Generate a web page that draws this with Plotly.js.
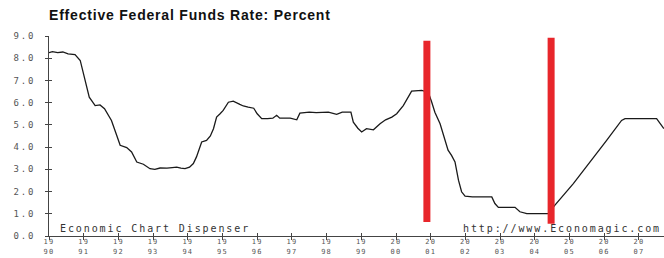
<!DOCTYPE html>
<html>
<head>
<meta charset="utf-8">
<script src="https://cdn.plot.ly/plotly-3.0.1.min.js"></script>
<style>
html,body{margin:0;padding:0;background:#fff;}
#chart{width:664px;height:258px;}
.annotation-text{letter-spacing:1.9px;}
.ytick text{letter-spacing:1.8px;}
.xtick text{letter-spacing:1.2px;}
.gtitle{letter-spacing:0.8px;}
</style>
</head>
<body>
<div id="chart"></div>
<script>
// Effective Federal Funds Rate (percent), decimal years
var dates = [1990.00,1990.10,1990.25,1990.40,1990.55,1990.75,1990.90,1991.04,1991.16,1991.33,1991.47,1991.60,1991.80,1991.95,
1992.05,1992.24,1992.38,1992.53,1992.72,1992.91,1993.05,1993.20,1993.40,1993.55,1993.68,1993.80,1993.92,1994.05,1994.16,
1994.25,1994.33,1994.40,1994.54,1994.65,1994.74,1994.83,1994.93,1995.02,1995.17,1995.31,1995.50,1995.60,1995.74,1995.90,
1996.00,1996.13,1996.30,1996.45,1996.56,1996.65,1996.95,1997.14,1997.23,1997.50,1997.70,1997.90,1998.05,1998.29,1998.45,
1998.70,1998.77,1998.90,1999.01,1999.15,1999.35,1999.54,1999.70,1999.88,2000.02,2000.21,2000.35,2000.45,2000.74,2000.93,
2001.03,2001.12,2001.27,2001.41,2001.50,2001.60,2001.70,2001.80,2001.89,2001.99,2002.20,2002.76,2002.85,2002.95,2003.43,
2003.57,2003.77,2004.39,2004.58,2005.11,2005.49,2006.07,2006.50,2006.60,2007.51,2007.72];
var rates = [8.25,8.30,8.25,8.28,8.20,8.16,7.90,7.00,6.25,5.87,5.90,5.73,5.20,4.53,
4.08,3.98,3.78,3.33,3.23,3.03,3.00,3.06,3.05,3.08,3.10,3.05,3.03,3.10,3.26,
3.56,3.93,4.23,4.30,4.50,4.83,5.35,5.50,5.65,6.02,6.07,5.92,5.85,5.80,5.75,
5.50,5.28,5.28,5.30,5.43,5.30,5.30,5.23,5.53,5.57,5.55,5.55,5.57,5.47,5.57,
5.57,5.12,4.85,4.68,4.83,4.78,5.05,5.23,5.35,5.50,5.87,6.25,6.52,6.55,6.47,
6.02,5.57,5.05,4.30,3.86,3.63,3.33,2.51,1.99,1.79,1.76,1.76,1.46,1.29,1.29,
1.09,1.01,1.01,1.39,2.36,3.11,4.30,5.20,5.28,5.28,4.83];

// Red marker bars drawn over the chart
var markerDates = [2000.89, 2004.47];
var markerTop = [8.79, 8.92];
var markerBottom = [0.63, 0.55];

var yearTicks = [1990,1991,1992,1993,1994,1995,1996,1997,1998,1999,2000,2001,2002,2003,2004,2005,2006,2007];
var yearLabels = ["19<br>90","19<br>91","19<br>92","19<br>93","19<br>94","19<br>95","19<br>96","19<br>97","19<br>98",
"19<br>99","20<br>00","20<br>01","20<br>02","20<br>03","20<br>04","20<br>05","20<br>06","20<br>07"];
var yTicks = [0,1,2,3,4,5,6,7,8,9];
var yLabels = ["0.0","1.0","2.0","3.0","4.0","5.0","6.0","7.0","8.0","9.0"];

var traces = [{
  x: dates, y: rates, type: 'scatter', mode: 'lines',
  line: {color: '#1a1a1a', width: 1.3}, hoverinfo: 'skip'
}];
for (var i = 0; i < markerDates.length; i++) {
  traces.push({
    x: [markerDates[i], markerDates[i]], y: [markerBottom[i], markerTop[i]],
    type: 'scatter', mode: 'lines', line: {color: '#e8262b', width: 7}, hoverinfo: 'skip'
  });
}

var xRange = [1990, 2007.723];

var layout = {
  width: 664, height: 258,
  margin: {l: 49, r: 0, t: 36, b: 22},
  paper_bgcolor: '#fff', plot_bgcolor: '#fff',
  showlegend: false,
  title: {text: 'Effective Federal Funds Rate: Percent', x: 0, xref: 'paper', xanchor: 'left',
          y: 1, yref: 'container', yanchor: 'top', pad: {t: 10, l: 0},
          font: {family: 'Liberation Sans', size: 14, color: '#111', weight: 'bold'}},
  xaxis: {range: xRange, tickvals: yearTicks, ticktext: yearLabels, showgrid: false, zeroline: false,
          showline: true, linecolor: '#444', linewidth: 1, ticks: 'outside', ticklen: 3, tickcolor: '#444',
          tickfont: {family: 'DejaVu Sans Mono', size: 7, color: '#555'}, ticklabelstandoff: -4, fixedrange: true},
  xaxis2: {range: xRange, tickvals: yearTicks, overlaying: 'x', showticklabels: false, showgrid: false,
           zeroline: false, ticks: 'inside', ticklen: 3, tickcolor: '#444', fixedrange: true},
  yaxis: {range: [0, 9], tickvals: yTicks, ticktext: yLabels, showgrid: false, zeroline: false,
          showline: true, linecolor: '#444', linewidth: 1, ticks: 'outside', ticklen: 3, tickcolor: '#444',
          tickfont: {family: 'DejaVu Sans Mono', size: 9, color: '#555'}, ticklabelstandoff: 8, fixedrange: true},
  yaxis2: {range: [0, 9], tickvals: yTicks, overlaying: 'y', showticklabels: false, showgrid: false,
           zeroline: false, ticks: 'inside', ticklen: 3, tickcolor: '#444', fixedrange: true},
  annotations: [
    {text: 'Economic Chart Dispenser', xref: 'paper', yref: 'paper', x: 0.014, y: 0.0,
     xanchor: 'left', yanchor: 'bottom', showarrow: false, font: {family: 'DejaVu Sans Mono', size: 10, color: '#333'}},
    {text: 'http://www.Economagic.com', xref: 'paper', yref: 'paper', x: 0.67, y: 0.0,
     xanchor: 'left', yanchor: 'bottom', showarrow: false, font: {family: 'DejaVu Sans Mono', size: 10, color: '#333'}}
  ]
};

// ghost trace to activate overlay axes for double-sided ticks
traces.push({x: [1990], y: [0], xaxis: 'x2', yaxis: 'y2', type: 'scatter', mode: 'markers',
             marker: {opacity: 0}, hoverinfo: 'skip'});

Plotly.newPlot('chart', traces, layout, {displayModeBar: false, staticPlot: true});
</script>
</body>
</html>
